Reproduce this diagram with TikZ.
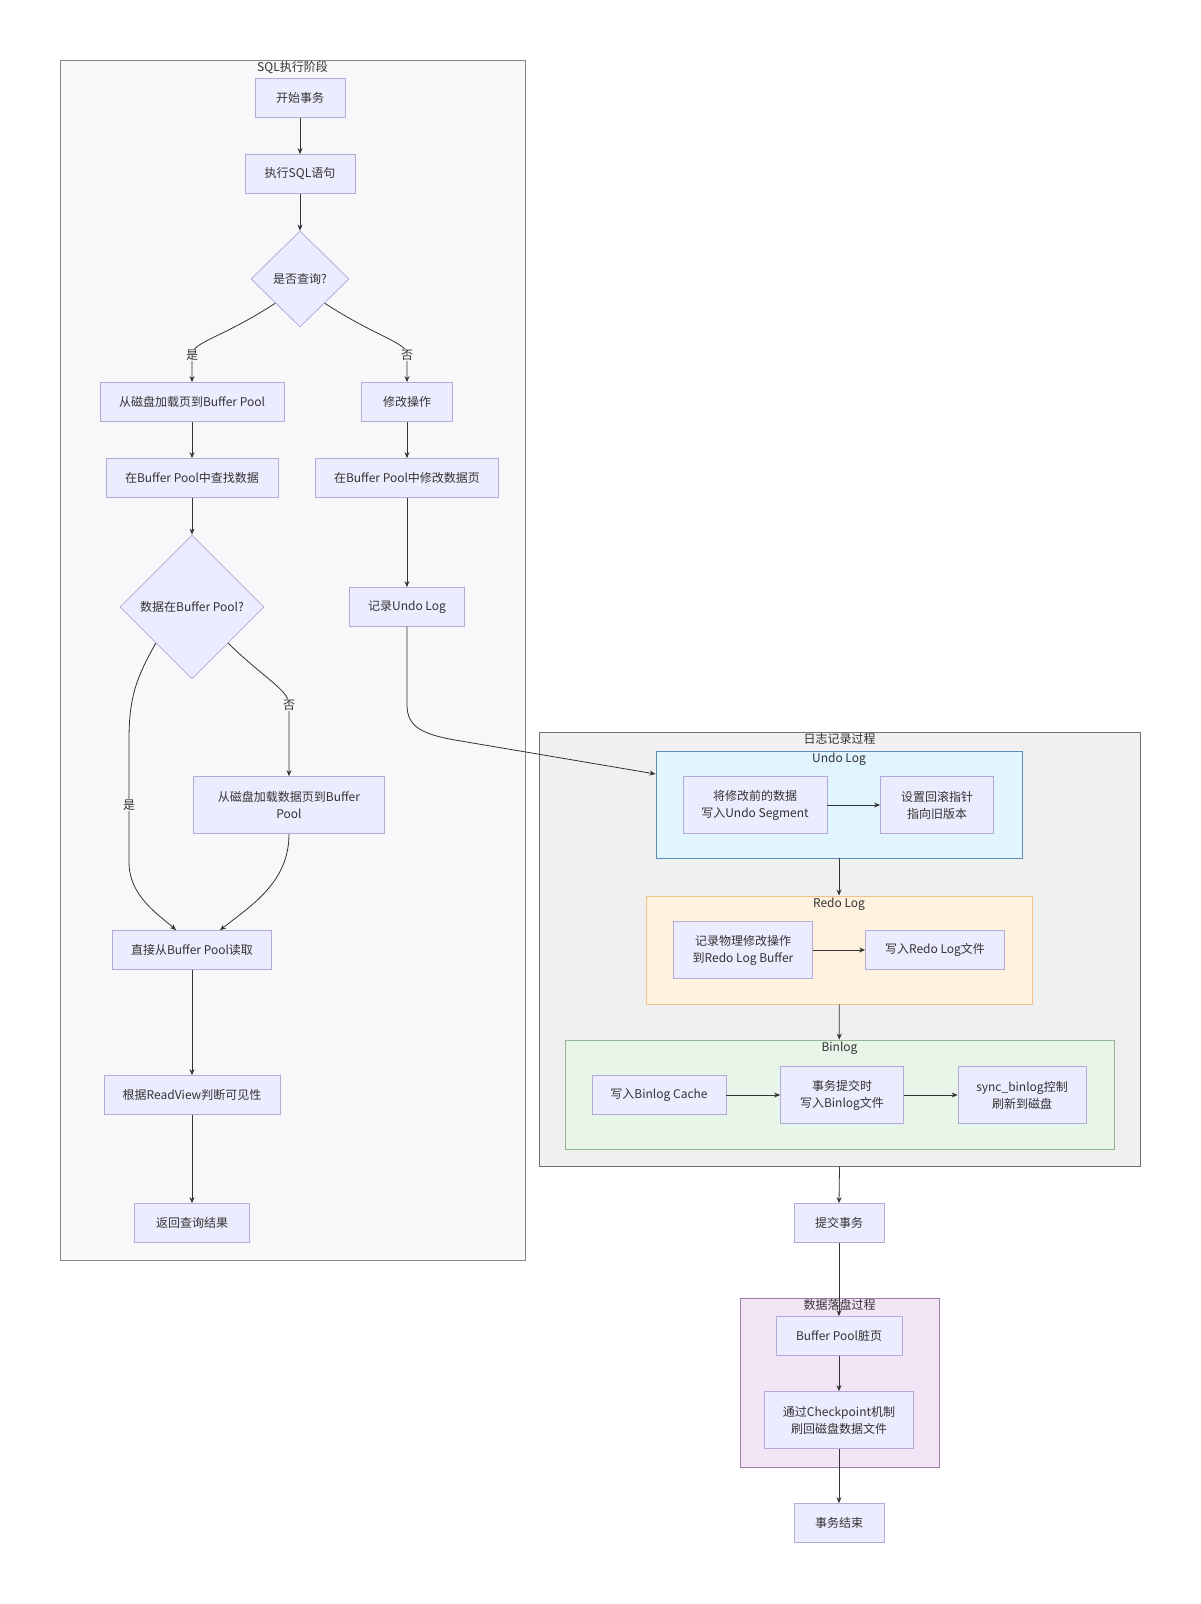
\documentclass[tikz,border=0pt]{standalone}
\usepackage{fontspec}
\newfontfamily\cjk{Noto Sans CJK SC}
\usetikzlibrary{arrows.meta,positioning,shapes.geometric}
\definecolor{boxfill}{HTML}{ECECFF}
\definecolor{boxline}{HTML}{B2ABDA}
\definecolor{txt}{HTML}{333333}
\definecolor{edge}{HTML}{333333}
\definecolor{sqlfill}{HTML}{F8F8FA}
\definecolor{sqlline}{HTML}{858585}
\definecolor{logfill}{HTML}{F0F0F0}
\definecolor{logline}{HTML}{707070}
\definecolor{undofill}{HTML}{E1F5FE}
\definecolor{undoline}{HTML}{5C8DB8}
\definecolor{redofill}{HTML}{FFF3E0}
\definecolor{redoline}{HTML}{F2C28A}
\definecolor{binfill}{HTML}{E8F5E9}
\definecolor{binline}{HTML}{93B595}
\definecolor{diskfill}{HTML}{F3E5F5}
\definecolor{diskline}{HTML}{A07AA8}

\begin{document}
\begin{tikzpicture}[x=1pt, y=-1pt,
  txtfont/.style={font=\cjk\fontsize{12}{17}\selectfont, text=txt},
  box/.style={rectangle, draw=boxline, fill=boxfill, line width=0.8pt, txtfont,
              align=center, minimum height=39pt, inner xsep=8pt},
  box2/.style={box, minimum height=57pt},
  dec/.style={diamond, draw=boxline, fill=boxfill, line width=0.8pt, txtfont, inner sep=0pt},
  cl/.style={rectangle, line width=0.9pt, inner sep=0pt},
  cltitle/.style={txtfont, anchor=north, inner sep=2pt},
  lbl/.style={txtfont, fill=sqlfill, inner sep=1pt},
  arr/.style={-{Stealth[length=6pt, width=5pt]}, line width=0.8pt, draw=edge}
]
\path[fill=white] (0,0) rectangle (1200,1604);
\useasboundingbox (0,0) rectangle (1200,1604);

\node[cl, draw=sqlline, fill=sqlfill, minimum width=465pt, minimum height=1200pt] (sqlcl) at (292.5,660) {};
\node[cltitle] at (sqlcl.north) {SQL执行阶段};
\node[cl, draw=logline, fill=logfill, minimum width=601pt, minimum height=434pt] (logcl) at (839.5,949) {};
\node[cltitle] at (logcl.north) {日志记录过程};
\node[cl, draw=undoline, fill=undofill, minimum width=366pt, minimum height=107pt] (undocl) at (839,804.5) {};
\node[cltitle] at (undocl.north) {Undo Log};
\node[cl, draw=redoline, fill=redofill, minimum width=386pt, minimum height=108pt] (redocl) at (839,950) {};
\node[cltitle] at (redocl.north) {Redo Log};
\node[cl, draw=binline, fill=binfill, minimum width=549pt, minimum height=109pt] (bincl) at (839.5,1094.5) {};
\node[cltitle] at (bincl.north) {Binlog};
\node[cl, draw=diskline, fill=diskfill, minimum width=199pt, minimum height=169pt] (diskcl) at (839.5,1382.5) {};
\node[cltitle] at (diskcl.north) {数据落盘过程};

\node[box, minimum width=90pt] (start) at (300,98) {开始事务};
\node[box, minimum width=110pt] (exec) at (300,174) {执行SQL语句};
\node[dec, minimum width=98pt, minimum height=96pt] (query) at (300,279) {是否查询?};
\node[box, minimum width=184pt] (load) at (192,402) {从磁盘加载页到Buffer Pool};
\node[box, minimum width=91pt] (modify) at (407,402) {修改操作};
\node[box, minimum width=172pt] (find) at (192,478) {在Buffer Pool中查找数据};
\node[box, minimum width=183pt] (modpage) at (407,478) {在Buffer Pool中修改数据页};
\node[dec, minimum width=144pt, minimum height=144pt] (inpool) at (192,607) {数据在Buffer Pool?};
\node[box, minimum width=115pt] (undo) at (407,607) {记录Undo Log};
\node[box2, minimum width=191pt] (diskpage) at (289,805) {从磁盘加载数据页到Buffer\\Pool};
\node[box, minimum width=159pt] (direct) at (192,950) {直接从Buffer Pool读取};
\node[box, minimum width=176pt] (readview) at (192,1095) {根据ReadView判断可见性};
\node[box, minimum width=115pt] (result) at (192,1223) {返回查询结果};

\node[box2, minimum width=144pt] (usegment) at (755,805) {将修改前的数据\\写入Undo Segment};
\node[box2, minimum width=113pt] (upointer) at (937,805) {设置回滚指针\\指向旧版本};
\node[box2, minimum width=139pt] (rbuffer) at (743,950) {记录物理修改操作\\到Redo Log Buffer};
\node[box, minimum width=139pt] (rfile) at (935,950) {写入Redo Log文件};
\node[box, minimum width=134pt] (bcache) at (659,1095) {写入Binlog Cache};
\node[box2, minimum width=123pt] (bfile) at (842,1095) {事务提交时\\写入Binlog文件};
\node[box2, minimum width=128pt] (bsync) at (1022,1095) {sync\_binlog控制\\刷新到磁盘};

\node[box, minimum width=90pt] (commit) at (839,1223) {提交事务};
\node[box, minimum width=126pt] (dirty) at (839,1336) {Buffer Pool脏页};
\node[box2, minimum width=149pt] (ckpt) at (839,1420) {通过Checkpoint机制\\刷回磁盘数据文件};
\node[box, minimum width=90pt] (finish) at (839,1523) {事务结束};

\draw[arr] (start) -- (exec);
\draw[arr] (exec) -- (query);
\draw[arr] (query.south west) .. controls (222,338) and (192,342) .. (192,355) node[lbl] {是} -- (load.north);
\draw[arr] (query.south east) .. controls (378,338) and (407,342) .. (407,355) node[lbl] {否} -- (modify.north);
\draw[arr] (load) -- (find);
\draw[arr] (find) -- (inpool);
\draw[arr] (modify) -- (modpage);
\draw[arr] (modpage) -- (undo);
\draw[arr] (inpool.south west) .. controls (136,678) and (129,698) .. (129,740) -- (129,805) node[lbl] {是}
  -- (129,862) .. controls (129,896) and (158,914) .. ([xshift=-16pt]direct.north);
\draw[arr] (inpool.south east) .. controls (266,680) and (289,690) .. (289,705) node[lbl] {否} -- (diskpage.north);
\draw[arr] (diskpage.south) .. controls (289,882) and (252,905) .. ([xshift=28pt]direct.north);
\draw[arr] (direct) -- (readview);
\draw[arr] (readview) -- (result);
\draw[arr] (undo.south) -- (407,705) .. controls (407,726) and (421,734) .. (455,740) -- ([yshift=30.5pt]undocl.west);

\draw[arr] (usegment) -- (upointer);
\draw[arr] (rbuffer) -- (rfile);
\draw[arr] (bcache) -- (bfile);
\draw[arr] (bfile) -- (bsync);
\draw[arr] (undocl) -- (redocl);
\draw[arr] (redocl) -- (bincl);
\draw[arr] (logcl.south) -- (commit.north);
\draw[arr] (commit) -- (dirty);
\draw[arr] (dirty) -- (ckpt);
\draw[arr] (ckpt) -- (finish);
\end{tikzpicture}
\end{document}
